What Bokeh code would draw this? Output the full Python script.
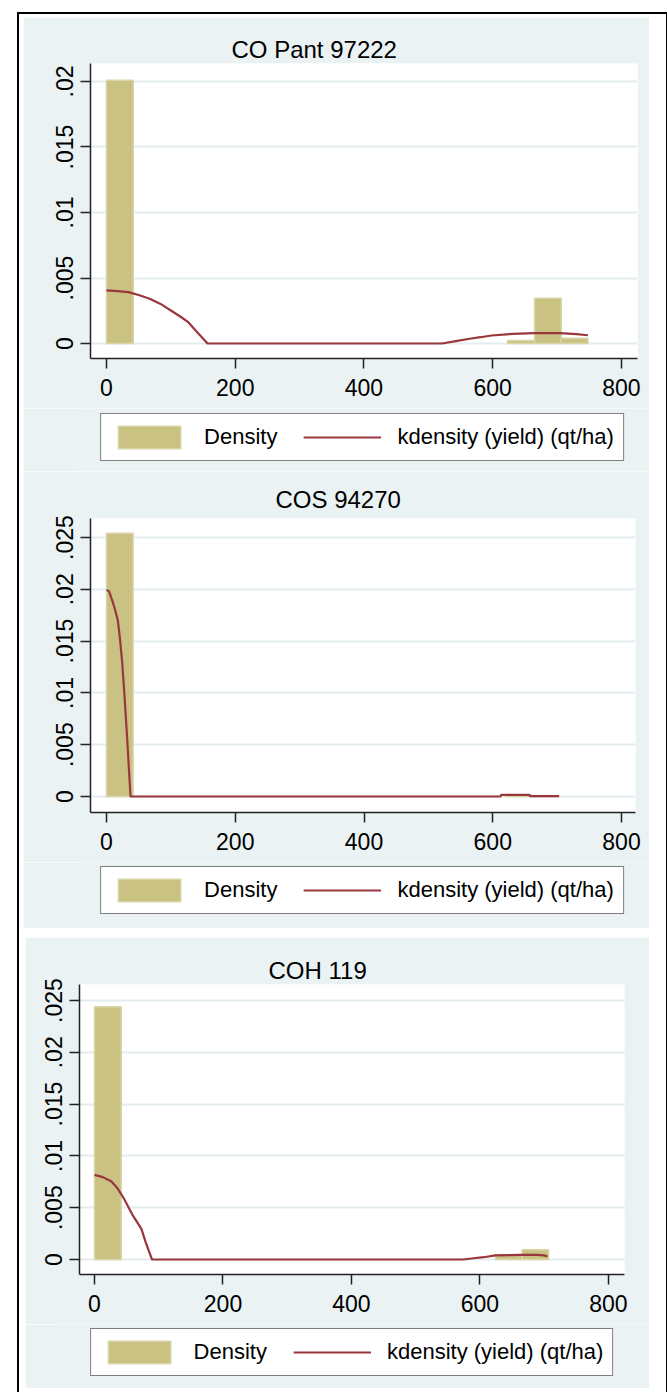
from bokeh.plotting import figure
from bokeh.models import Range1d, FixedTicker, Legend, LegendItem, Div
from bokeh.embed import file_html
from bokeh.resources import INLINE

FONT = "Liberation Sans"
BG = "#EAF2F3"
BAR_FILL = "#C9C283"
BAR_LINE = "#D9D5A6"
LINE_COLOR = "#9B363D"
GRID = "#E3ECEF"
AXIS = "#222222"

x_ticks = [0, 200, 400, 600, 800]
legend_labels = ["Density", "kdensity (yield) (qt/ha)"]

# ---- Panel 1: CO Pant 97222 ----
p1_title = "CO Pant 97222"
p1_bin_left = [0, 623, 665, 706.5]
p1_bin_right = [41.6, 665, 706.5, 748]
p1_density = [0.0201, 0.00023, 0.00345, 0.0004]
p1_kx = [0, 17, 34, 50, 67, 84, 100, 114, 127, 142, 157, 300, 450, 521, 545, 564,
         581, 598, 632, 664, 705, 730, 748]
p1_ky = [0.00405, 0.0040, 0.00392, 0.0037, 0.00341, 0.00302, 0.00252, 0.00208,
         0.00163, 0.0008, 0.0, 0.0, 0.0, 0.0, 0.0002, 0.00036, 0.00048, 0.00061,
         0.00074, 0.00079, 0.00079, 0.00072, 0.00063]
p1_yticks = [0, 0.005, 0.01, 0.015, 0.02]
p1_ylabels = ["0", ".005", ".01", ".015", ".02"]

# ---- Panel 2: COS 94270 ----
p2_title = "COS 94270"
p2_bin_left = [0, 620, 661.6]
p2_bin_right = [41.35, 661.6, 703]
p2_density = [0.0254, 0.00012, 0.00005]
p2_kx = [0, 4, 9, 13, 17.6, 21, 24.2, 27.5, 32, 35, 37.3, 300, 600, 612, 613,
         657, 658, 703]
p2_ky = [0.01995, 0.0198, 0.0189, 0.0181, 0.0170, 0.0152, 0.0131, 0.0102, 0.0057,
         0.0025, 0.0, 0.0, 0.0, 0.0, 0.00015, 0.00015, 0.00003, 0.00003]
p2_yticks = [0, 0.005, 0.01, 0.015, 0.02, 0.025]
p2_ylabels = ["0", ".005", ".01", ".015", ".02", ".025"]

# ---- Panel 3: COH 119 ----
p3_title = "COH 119"
p3_bin_left = [0, 624, 665.6]
p3_bin_right = [41.6, 665.6, 707]
p3_density = [0.0244, 0.00045, 0.00095]
p3_kx = [0, 13, 26.4, 36.4, 46, 59.6, 73, 79.6, 89.5, 300, 574, 590, 606, 624,
         645, 663, 689, 700, 705]
p3_ky = [0.00817, 0.00795, 0.00753, 0.00682, 0.00586, 0.00425, 0.00296, 0.00167,
         0.0, 0.0, 0.0, 0.00012, 0.00022, 0.0004, 0.00043, 0.00045, 0.00045,
         0.0004, 0.00028]
p3_yticks = [0, 0.005, 0.01, 0.015, 0.02, 0.025]
p3_ylabels = ["0", ".005", ".01", ".015", ".02", ".025"]


def draw_series(p, bl, br, dens, kx, ky):
    q = p.quad(left=bl, right=br, top=dens, bottom=0, fill_color=BAR_FILL,
               line_color=BAR_LINE, line_width=1.5)
    ln = p.line(kx, ky, line_color=LINE_COLOR, line_width=2.2)
    return q, ln


def make_panel(title, bl, br, dens, kx, ky, yticks, ylabels, xr, yr, frame,
               borders, title_offset, title_standoff):
    left, right, top, bottom = borders
    p = figure(frame_width=frame[0], frame_height=frame[1],
               x_range=Range1d(*xr), y_range=Range1d(*yr),
               output_backend="svg", toolbar_location=None, title=title,
               min_border_left=left, min_border_right=right,
               min_border_top=top, min_border_bottom=bottom)
    p.border_fill_color = BG
    p.background_fill_color = "white"
    p.outline_line_color = None

    p.title.text_font = FONT
    p.title.text_font_size = "24px"
    p.title.text_font_style = "normal"
    p.title.text_color = "black"
    p.title.align = "left"
    p.title.offset = title_offset
    p.title.standoff = title_standoff

    for ax in (p.xaxis[0], p.yaxis[0]):
        ax.axis_line_color = AXIS
        ax.axis_line_width = 1.5
        ax.major_tick_line_color = AXIS
        ax.major_tick_line_width = 1.5
        ax.major_tick_in = 0
        ax.major_tick_out = 10
        ax.minor_tick_in = 0
        ax.minor_tick_out = 0
        ax.major_label_text_font = FONT
        ax.major_label_text_font_size = "23px"
        ax.major_label_text_color = "black"
    p.xaxis.ticker = FixedTicker(ticks=x_ticks)
    p.xaxis.major_label_standoff = 10
    p.yaxis.ticker = FixedTicker(ticks=yticks)
    p.yaxis.major_label_overrides = dict(zip(yticks, ylabels))
    p.yaxis.major_label_orientation = "vertical"
    p.yaxis.major_label_standoff = 7

    p.xgrid.visible = False
    p.ygrid.ticker = FixedTicker(ticks=yticks)
    p.ygrid.grid_line_color = GRID
    p.ygrid.grid_line_width = 2

    draw_series(p, bl, br, dens, kx, ky)
    return p


def make_legend_strip(bl, br, dens, kx, ky, width, height, borders):
    # legend strip below a panel; the series sit outside its x-range, so only
    # the legend entries are seen
    left, right, top, bottom = borders
    p = figure(width=width, height=height, x_range=Range1d(-2, -1),
               y_range=Range1d(0, 1), output_backend="svg", toolbar_location=None,
               x_axis_location=None, y_axis_location=None,
               min_border_left=left, min_border_right=right,
               min_border_top=top, min_border_bottom=bottom)
    p.border_fill_color = BG
    p.background_fill_color = BG
    p.outline_line_color = None
    p.grid.visible = False
    q, ln = draw_series(p, bl, br, dens, kx, ky)
    legend = Legend(items=[LegendItem(label=legend_labels[0], renderers=[q]),
                           LegendItem(label=legend_labels[1], renderers=[ln])],
                    orientation="horizontal", location="center")
    legend.border_line_color = "black"
    legend.border_line_width = 1.5
    legend.background_fill_color = "white"
    legend.background_fill_alpha = 1
    legend.label_text_font = FONT
    legend.label_text_font_size = "22px"
    legend.label_text_color = "black"
    legend.glyph_width = 78
    legend.glyph_height = 28
    legend.label_standoff = 16
    legend.spacing = 26
    legend.padding = 9
    legend.margin = 0
    p.add_layout(legend, "center")
    return p


f1 = make_panel(p1_title, p1_bin_left, p1_bin_right, p1_density, p1_kx, p1_ky,
                p1_yticks, p1_ylabels, (-24.85, 824.9), (-0.001145, 0.021374),
                (547, 295), (67, 12, 46, 50), 141, 1)
l1 = make_legend_strip(p1_bin_left, p1_bin_right, p1_density, p1_kx, p1_ky,
                       626, 63, (52, 0, 0, 5))
f2 = make_panel(p2_title, p2_bin_left, p2_bin_right, p2_density, p2_kx, p2_ky,
                p2_yticks, p2_ylabels, (-24.85, 821.7), (-0.001544, 0.026834),
                (545, 294), (67, 14, 47, 50), 185, 11)
l2 = make_legend_strip(p2_bin_left, p2_bin_right, p2_density, p2_kx, p2_ky,
                       626, 66, (52, 0, 0, 10))
f3 = make_panel(p3_title, p3_bin_left, p3_bin_right, p3_density, p3_kx, p3_ky,
                p3_yticks, p3_ylabels, (-23.35, 825.0), (-0.001448, 0.026544),
                (545, 290), (54, 25, 47, 50), 189, 2)
l3 = make_legend_strip(p3_bin_left, p3_bin_right, p3_density, p3_kx, p3_ky,
                       624, 64, (29, 0, 0, 8))

f1.margin = (17, 0, 0, 23)
l1.margin = (0, 0, 0, 23)
f2.margin = (0, 0, 0, 23)
l2.margin = (0, 0, 0, 23)
f3.margin = (9, 0, 0, 25)
l3.margin = (0, 0, 0, 25)

frame_box = Div(text="", styles={"position": "absolute", "left": "12px", "top": "7px",
                                 "width": "647px", "height": "1379px",
                                 "border": "2px solid black",
                                 "box-sizing": "content-box",
                                 "pointer-events": "none", "z-index": "5"})

open("out.html", "w").write(file_html([frame_box, f1, l1, f2, l2, f3, l3], INLINE))
